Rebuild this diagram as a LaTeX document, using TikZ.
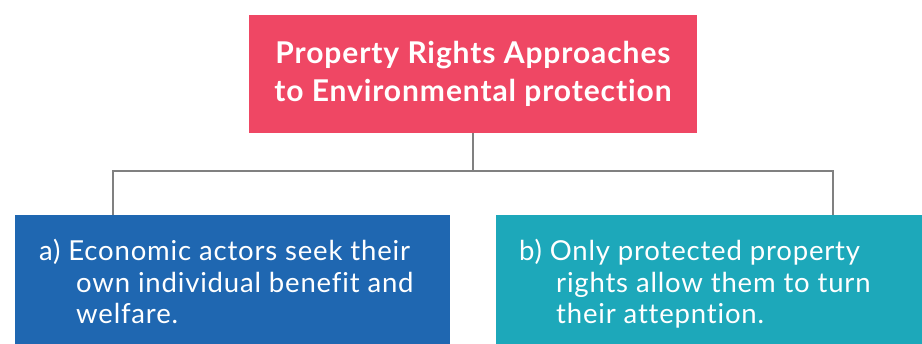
\documentclass[tikz,border=0pt]{standalone}
\usepackage{fontspec}
\setmainfont{Lato}
\newfontfamily\spacedfont[LetterSpace=3,RawFeature={-liga;-dlig}]{Lato}
\definecolor{topred}{HTML}{EF4764}
\definecolor{leftblue}{HTML}{1F67B1}
\definecolor{rightteal}{HTML}{1DA8BA}
\definecolor{linegray}{HTML}{808080}
\tikzset{
  boxshape/.style={rectangle, inner sep=0pt, draw=none},
  conn/.style={draw=linegray, line width=1.3pt},
  toptext/.style={text=white, align=center, inner sep=0pt, font=\spacedfont\fontsize{30}{38}\selectfont\bfseries},
  subtext/.style={text=white, align=left, inner sep=0pt, anchor=north west, font=\spacedfont\fontsize{27.5}{31.5}\selectfont},
}
\begin{document}
\begin{tikzpicture}[x=1pt,y=-1pt]
\useasboundingbox (0,0) rectangle (922,344);
\node[boxshape, fill=topred, minimum width=448pt, minimum height=118pt] (top) at (473,74) {};
\node[toptext] (toptxt) at (top) {Property Rights Approaches\\to Environmental protection};
\node[boxshape, fill=leftblue, minimum width=435pt, minimum height=129pt] (left) at (232.5,279.5) {};
\node[boxshape, fill=rightteal, minimum width=426pt, minimum height=129pt] (right) at (709,279.5) {};
\coordinate (hub) at (473,171);
\coordinate (lend) at (113,215);
\coordinate (rend) at (833,215);
\draw[conn] (top.south) -- (hub);
\draw[conn] (lend) |- (hub) -| (rend);
\node[subtext] (lefttxt) at (39,239) {a)~Economic actors seek their\\\hspace*{37pt}own individual benefit and\\\hspace*{37pt}welfare.};
\node[subtext] (righttxt) at (519,239) {b)~Only protected property\\\hspace*{37pt}rights allow them to turn\\\hspace*{37pt}their attepntion.};
\end{tikzpicture}
\end{document}
